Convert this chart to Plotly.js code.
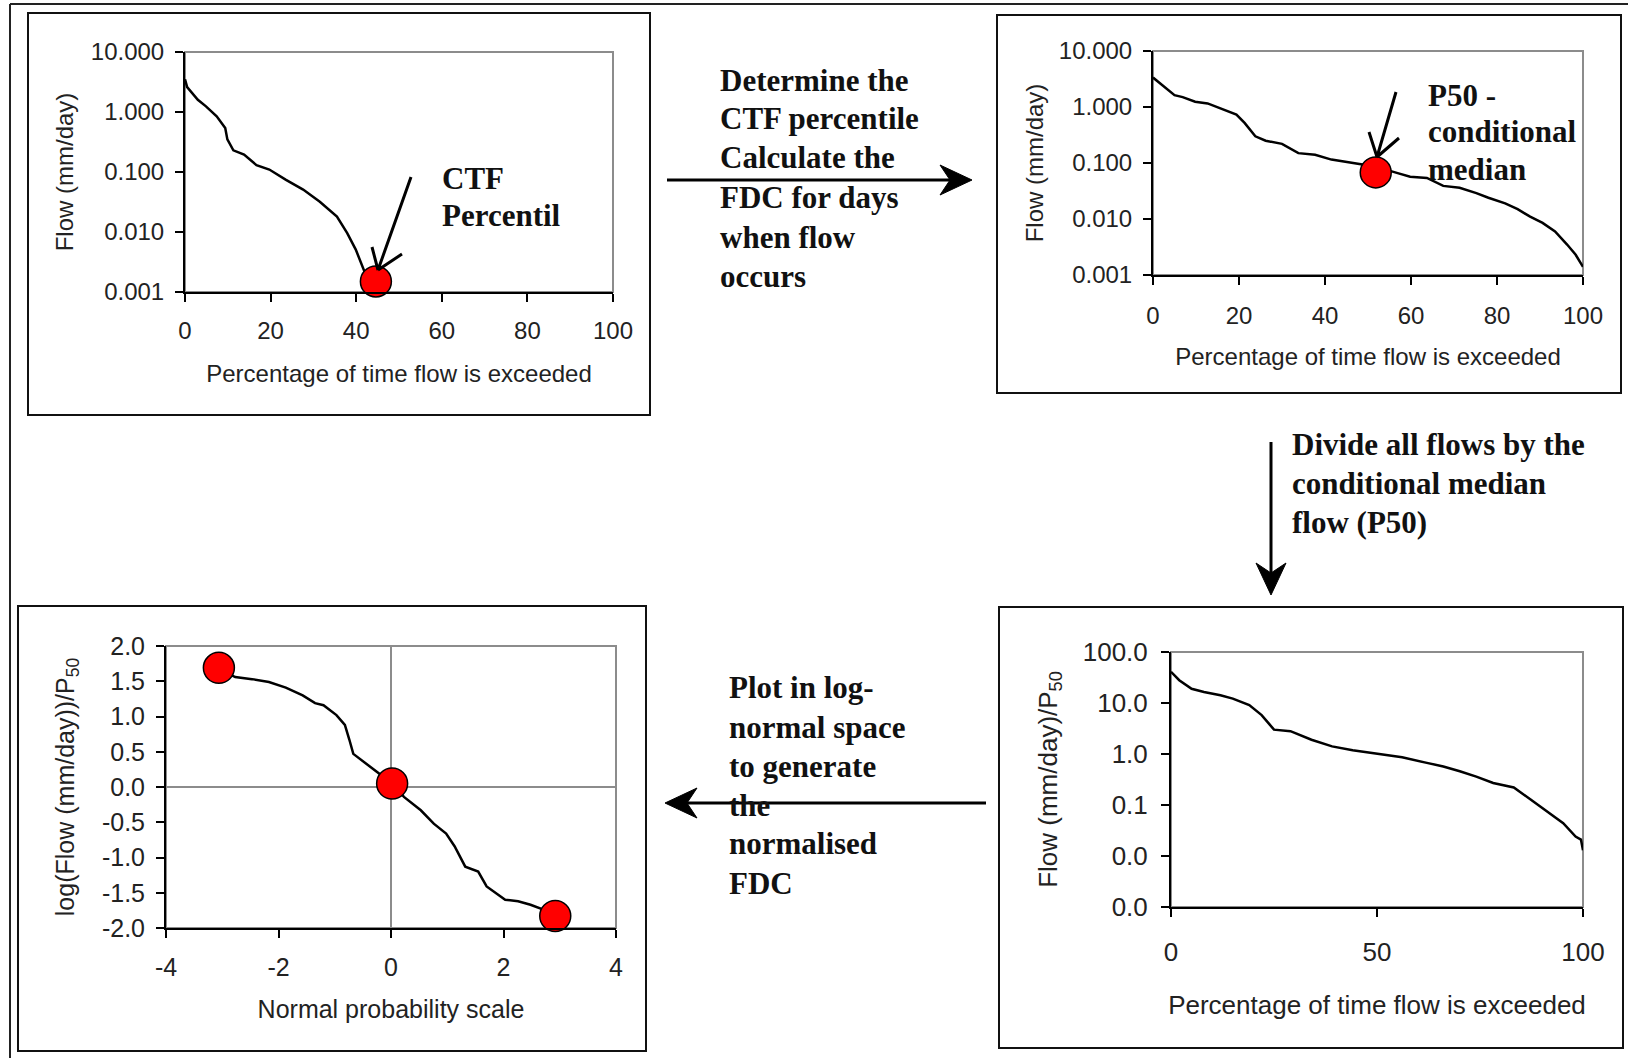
<!DOCTYPE html>
<html><head><meta charset="utf-8">
<script src="https://cdn.plot.ly/plotly-3.0.1.min.js"></script>
<style>html,body{margin:0;padding:0;background:#fff}#chart{width:1628px;height:1058px}</style>
</head><body><div id="chart"></div>
<script>
// ---- Panel 1: FDC (all days) with CTF percentile ----
const p1X = [0, 0.5, 3, 4.9, 7.4, 9.4, 9.9, 11.3, 13.8, 16.7, 19.7, 23.6, 27.6, 31.5, 35.5, 37.9, 39.9, 41.4, 42.4, 43.3];
const p1Y = [3.5, 2.6, 1.6, 1.24, 0.85, 0.54, 0.35, 0.23, 0.195, 0.13, 0.11, 0.074, 0.051, 0.032, 0.018, 0.0096, 0.0051, 0.0027, 0.0018, 0.0015];
const p1DotX = [44.6];
const p1DotY = [0.0015];

// ---- Panel 2: conditional FDC with P50 ----
const p2X = [0, 2.1, 5, 6.9, 9.8, 12.7, 15.6, 19.4, 21.3, 23.8, 26.2, 30, 33.8, 37.7, 41.5, 46.3, 51.6, 56.9, 59.8, 63.7, 67.5, 71.3, 75.2, 78, 81.9, 84.8, 87.7, 90.6, 93.5, 96.3, 98.3, 100];
const p2Y = [3.36, 2.46, 1.63, 1.5, 1.24, 1.16, 0.96, 0.73, 0.52, 0.3, 0.25, 0.22, 0.15, 0.14, 0.115, 0.1, 0.087, 0.066, 0.057, 0.054, 0.039, 0.036, 0.029, 0.024, 0.019, 0.015, 0.011, 0.0085, 0.006, 0.0035, 0.0023, 0.0014];
const p2DotX = [51.8];
const p2DotY = [0.068];

// ---- Panel 3: normalised FDC in log-normal space ----
const p3X = [-3.06, -2.77, -2.47, -2.17, -1.87, -1.57, -1.35, -1.2, -0.97, -0.82, -0.74, -0.67, -0.44, -0.22, 0.02, 0.23, 0.53, 0.76, 0.98, 1.13, 1.32, 1.55, 1.7, 2.03, 2.26, 2.48, 2.71, 2.92];
const p3Y = [1.68, 1.56, 1.53, 1.49, 1.41, 1.3, 1.19, 1.16, 1.02, 0.88, 0.67, 0.47, 0.33, 0.19, 0.05, -0.14, -0.33, -0.52, -0.66, -0.84, -1.13, -1.2, -1.41, -1.6, -1.62, -1.67, -1.74, -1.83];
const p3DotX = [-3.06, 0.02, 2.92];
const p3DotY = [1.69, 0.05, -1.83];

// ---- Panel 4: FDC divided by P50 ----
const p4X = [0, 2, 5, 8, 12, 15, 19, 22, 25, 29, 34.1, 39.1, 44.1, 50.1, 56.1, 62.1, 66.1, 70.1, 74.1, 78.2, 83.2, 87.2, 91.2, 95.2, 98.2, 99.5, 100];
const p4Y = [41, 28, 19, 16.5, 14.2, 12.2, 9.1, 5.8, 3.0, 2.8, 1.9, 1.41, 1.18, 1.0, 0.86, 0.67, 0.57, 0.46, 0.36, 0.27, 0.22, 0.13, 0.075, 0.044, 0.024, 0.021, 0.013];

// ---- Tick labels ----
const logTickVals = [0.001, 0.01, 0.1, 1, 10];
const logTickText = ['0.001', '0.010', '0.100', '1.000', '10.000'];
const p4TickVals = [0.001, 0.01, 0.1, 1, 10, 100];
const p4TickText = ['0.0', '0.0', '0.1', '1.0', '10.0', '100.0'];
const p3XTickVals = [-4, -2, 0, 2, 4];
const p3XTickText = ['-4', '-2', '0', '2', '4'];
const p3YTickVals = [-2, -1.5, -1, -0.5, 0, 0.5, 1, 1.5, 2];
const p3YTickText = ['-2.0', '-1.5', '-1.0', '-0.5', '0.0', '0.5', '1.0', '1.5', '2.0'];

const W = 1628, H = 1058;
const fx = p => p / W;
const fy = p => 1 - p / H;

const SANS = 'Liberation Sans, Arial, sans-serif';
const SERIF = 'Liberation Serif, Times New Roman, serif';

function ax(extra) {
  return Object.assign({
    showline: true, linecolor: '#000', linewidth: 2, mirror: false,
    ticks: 'outside', ticklen: 8, tickwidth: 2, tickcolor: '#000',
    showgrid: false, zeroline: false, fixedrange: true,
    tickfont: {family: SANS, size: 24, color: '#222'}
  }, extra);
}
function ttl(text, size, standoff) {
  return {text: text, font: {family: SANS, size: size, color: '#222'}, standoff: standoff};
}

const lineStyle = {color: '#000', width: 2.5};
const dotStyle = {color: '#ff0000', size: 31, line: {color: '#000', width: 1.5}};

const data = [
  {x: p1X, y: p1Y, xaxis: 'x', yaxis: 'y', mode: 'lines', line: lineStyle},
  {x: p1DotX, y: p1DotY, xaxis: 'x', yaxis: 'y', mode: 'markers', marker: dotStyle, cliponaxis: false},
  {x: p2X, y: p2Y, xaxis: 'x2', yaxis: 'y2', mode: 'lines', line: lineStyle},
  {x: p2DotX, y: p2DotY, xaxis: 'x2', yaxis: 'y2', mode: 'markers', marker: dotStyle, cliponaxis: false},
  {x: p3X, y: p3Y, xaxis: 'x3', yaxis: 'y3', mode: 'lines', line: lineStyle},
  {x: p3DotX, y: p3DotY, xaxis: 'x3', yaxis: 'y3', mode: 'markers', marker: dotStyle, cliponaxis: false},
  {x: p4X, y: p4Y, xaxis: 'x4', yaxis: 'y4', mode: 'lines', line: lineStyle}
];

function box(x0, y0, x1, y1) {
  return {type: 'rect', xref: 'paper', yref: 'paper', x0: fx(x0), x1: fx(x1), y0: fy(y1), y1: fy(y0),
          line: {color: '#111', width: 2}, fillcolor: 'rgba(0,0,0,0)', layer: 'below'};
}
function border(n) {
  const s = n === 1 ? '' : String(n);
  return {type: 'rect', xref: 'x' + s + ' domain', yref: 'y' + s + ' domain', x0: 0, x1: 1, y0: 0, y1: 1,
          line: {color: '#8c8c8c', width: 2}, layer: 'below'};
}
function pathPx(pts) {
  return pts.map(s => 'M' + fx(s[0]) + ',' + fy(s[1]) + 'L' + fx(s[2]) + ',' + fy(s[3])).join(' ');
}
// big flow-chart arrow: shaft line + stealth head (pixel geometry converted to paper)
function bigArrow(tailX, tailY, tipX, tipY) {
  const dx = tipX - tailX, dy = tipY - tailY, L = Math.hypot(dx, dy);
  const ux = dx / L, uy = dy / L, nx = -uy, ny = ux;
  const hl = 32, hw = 15, notch = 22;
  const p = (a, b) => [tipX - ux * a + nx * b, tipY - uy * a + ny * b];
  const P = [[tipX, tipY], p(hl, hw), p(notch, 0), p(hl, -hw)];
  const head = 'M' + P.map(q => fx(q[0]) + ',' + fy(q[1])).join('L') + 'Z';
  const end = p(notch, 0);
  return [
    {type: 'line', xref: 'paper', yref: 'paper', x0: fx(tailX), y0: fy(tailY), x1: fx(end[0]), y1: fy(end[1]), line: {color: '#000', width: 3}},
    {type: 'path', xref: 'paper', yref: 'paper', path: head, fillcolor: '#000', line: {color: '#000', width: 1}}
  ];
}

const shapes = [
  {type: 'line', xref: 'paper', yref: 'paper', x0: fx(10), x1: fx(10), y0: fy(4), y1: 0, line: {color: '#222', width: 2}},
  {type: 'line', xref: 'paper', yref: 'paper', x0: fx(10), x1: 1, y0: fy(4), y1: fy(4), line: {color: '#222', width: 2}},
  box(28, 13, 650, 415),
  box(997, 15, 1621, 393),
  box(18, 606, 646, 1051),
  box(999, 607, 1623, 1048),
  border(1), border(2), border(3), border(4),
  {type: 'path', xref: 'paper', yref: 'paper', path: pathPx([[411,177,378,270],[372,247,378,270],[402,254,378,270]]), line: {color: '#000', width: 3}},
  {type: 'path', xref: 'paper', yref: 'paper', path: pathPx([[1396,92,1377,157],[1369,132,1377,157],[1399,138,1377,157]]), line: {color: '#000', width: 3}}
].concat(bigArrow(667, 180, 972, 180), bigArrow(1271, 442, 1271, 595), bigArrow(986, 803, 665, 803));

function lines(textLines, left, centers, size) {
  return textLines.map((t, i) => ({
    xref: 'paper', yref: 'paper', x: fx(left), y: fy(centers[i]), xanchor: 'left', yanchor: 'middle',
    showarrow: false, text: '<b>' + t + '</b>', font: {family: SERIF, size: size, color: '#111'}
  }));
}

const annotations = [].concat(
  lines(['Determine the', 'CTF percentile', 'Calculate the', 'FDC for days', 'when flow', 'occurs'], 718, [81, 119, 158, 197, 237, 277], 31),
  lines(['Divide all flows by the', 'conditional median', 'flow (P50)'], 1290, [444, 484, 523], 31),
  lines(['Plot in log-', 'normal space', 'to generate', 'the', 'normalised', 'FDC'], 727, [687, 727, 766, 805, 843, 883], 31),
  lines(['CTF', 'Percentil'], 440, [179, 216], 31),
  lines(['P50 -', 'conditional', 'median'], 1426, [96, 132, 170], 31)
);

const layout = {
  width: W, height: H, margin: {l: 0, r: 0, t: 0, b: 0},
  paper_bgcolor: '#fff', plot_bgcolor: '#fff', showlegend: false,
  xaxis: ax({domain: [fx(185), fx(613)], anchor: 'y', range: [0, 100], tickvals: [0, 20, 40, 60, 80, 100], ticklabelstandoff: 8,
             title: ttl('Percentage of time flow is exceeded', 24, 22)}),
  yaxis: ax({domain: [fy(292), fy(52)], anchor: 'x', type: 'log', range: [-3, 1], tickvals: logTickVals, ticktext: logTickText, ticklabelstandoff: 6,
             title: ttl('Flow (mm/day)', 24, 10)}),
  xaxis2: ax({domain: [fx(1153), fx(1583)], anchor: 'y2', range: [0, 100], tickvals: [0, 20, 40, 60, 80, 100], ticklabelstandoff: 10,
             title: ttl('Percentage of time flow is exceeded', 24, 20)}),
  yaxis2: ax({domain: [fy(275), fy(51)], anchor: 'x2', type: 'log', range: [-3, 1], tickvals: logTickVals, ticktext: logTickText, ticklabelstandoff: 6,
             title: ttl('Flow (mm/day)', 24, 8)}),
  xaxis3: ax({domain: [fx(166), fx(616)], anchor: 'y3', range: [-4, 4], tickvals: p3XTickVals, ticktext: p3XTickText, ticklabelstandoff: 8,
             zeroline: true, zerolinecolor: '#8c8c8c', zerolinewidth: 1.5,
             tickfont: {family: SANS, size: 25, color: '#222'},
             title: ttl('Normal probability scale', 25, 20)}),
  yaxis3: ax({domain: [fy(928), fy(646)], anchor: 'x3', range: [-2, 2], tickvals: p3YTickVals, ticktext: p3YTickText, ticklabelstandoff: 6,
             zeroline: true, zerolinecolor: '#8c8c8c', zerolinewidth: 1.5,
             tickfont: {family: SANS, size: 25, color: '#222'},
             title: ttl('log(Flow (mm/day))/P<sub>50</sub>', 25, 20)}),
  xaxis4: ax({domain: [fx(1171), fx(1583)], anchor: 'y4', range: [0, 100], tickvals: [0, 50, 100], ticklabelstandoff: 13,
             tickfont: {family: SANS, size: 26, color: '#222'},
             title: ttl('Percentage of time flow is exceeded', 26, 30)}),
  yaxis4: ax({domain: [fy(907), fy(652)], anchor: 'x4', type: 'log', range: [-3, 2], tickvals: p4TickVals, ticktext: p4TickText, ticklabelstandoff: 8,
             tickfont: {family: SANS, size: 26, color: '#222'},
             title: ttl('Flow (mm/day)/P<sub>50</sub>', 26, 18)}),
  shapes: shapes,
  annotations: annotations
};

Plotly.newPlot('chart', data, layout, {staticPlot: true, displayModeBar: false});
</script>
</body></html>
